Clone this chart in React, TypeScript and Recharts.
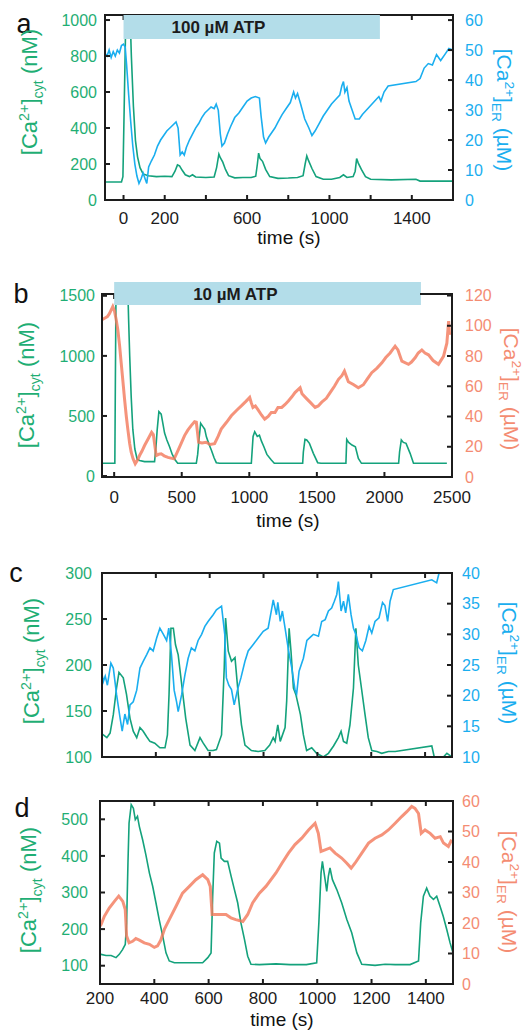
import React from 'react';
import { LineChart, Line, XAxis, YAxis, ReferenceArea } from 'recharts';

// colours
const GREEN = '#14a27c';
const GREEN_TXT = '#1fae74';
const BLUE = '#1aaeef';
const RED = '#f3785a';
const BAR = '#b3dde9';
const INK = '#1c1c1c';

// ---- panel a : 100 uM ATP ----
const aCytT = [-90, -10, -3, 3, 10, 15, 30, 38, 48, 58, 68, 80, 95, 120, 160, 200, 235, 250, 262, 272, 285, 300, 320, 335, 350, 400, 440, 452, 463, 470, 482, 495, 510, 540, 580, 620, 642, 650, 656, 663, 675, 690, 710, 750, 800, 845, 872, 882, 890, 898, 915, 935, 970, 1010, 1050, 1068, 1085, 1115, 1125, 1132, 1140, 1155, 1175, 1200, 1300, 1420, 1440, 1500, 1600];
const aCytV = [100, 100, 130, 500, 950, 1100, 1100, 800, 520, 330, 240, 180, 145, 135, 130, 132, 130, 160, 195, 190, 165, 140, 130, 140, 128, 125, 128, 180, 255, 235, 210, 170, 135, 123, 125, 125, 132, 200, 260, 230, 215, 170, 130, 120, 122, 125, 135, 200, 245, 220, 175, 130, 115, 115, 125, 140, 125, 130, 160, 230, 205, 170, 130, 115, 112, 115, 105, 105, 105];
const aErT = [-90, -80, -70, -60, -50, -40, -30, -20, -10, 0, 8, 15, 25, 35, 45, 55, 65, 75, 85, 95, 105, 113, 122, 135, 150, 165, 180, 195, 210, 225, 240, 255, 265, 275, 285, 295, 305, 320, 335, 350, 365, 380, 395, 410, 425, 440, 450, 460, 470, 478, 490, 505, 520, 540, 560, 580, 600, 620, 640, 660, 668, 680, 690, 705, 720, 735, 750, 770, 790, 810, 826, 835, 845, 860, 880, 900, 915, 930, 950, 970, 990, 1010, 1030, 1050, 1060, 1068, 1075, 1085, 1095, 1110, 1125, 1145, 1160, 1180, 1200, 1220, 1240, 1250, 1265, 1285, 1420, 1440, 1460, 1480, 1500, 1520, 1540, 1560, 1580, 1600];
const aErV = [49, 48, 50, 47.5, 49.5, 48, 50, 49, 51.5, 52, 51, 45, 35, 26, 18, 12, 8, 5.5, 7, 9, 7, 5.5, 11, 13, 15, 18, 20, 21.5, 23, 24, 25, 26, 24, 15, 16, 15, 17.5, 20, 22, 24, 25.5, 27.5, 29, 30, 31, 30.5, 32, 30, 22, 18, 19, 22, 24.5, 27.5, 29, 31, 33, 34, 34.5, 34, 28, 21, 19, 21, 22.5, 24, 26, 28.5, 30.5, 32.5, 36, 34, 35.5, 32, 27, 24, 21.5, 23, 25.5, 28, 30, 32, 33.5, 35, 38, 39.5, 36, 37.5, 33, 30, 27, 27, 28.5, 30, 31.5, 33, 34.5, 33, 36, 38, 39.5, 40.5, 44, 45.5, 45, 48.5, 46.5, 48.5, 50.5, 50];
const aAtp = [0, 1245];
const aXTicks = [0, 200, 400, 600, 800, 1000, 1200, 1400];
const aXLabels = [0, 200, 600, 1000, 1400];
const aLTicks = [0, 200, 400, 600, 800, 1000];
const aRTicks = [0, 10, 20, 30, 40, 50, 60];

// ---- panel b : 10 uM ATP ----
const bCytT = [-90, 5, 9, 14, 100, 107, 115, 126, 138, 153, 170, 188, 225, 299, 310, 318, 331, 348, 360, 373, 390, 410, 430, 452, 470, 608, 618, 625, 640, 657, 670, 682, 700, 719, 740, 756, 780, 1015, 1028, 1040, 1059, 1075, 1090, 1108, 1130, 1163, 1185, 1395, 1400, 1412, 1425, 1445, 1474, 1506, 1530, 1715, 1721, 1735, 1760, 1785, 1807, 1830, 2105, 2112, 2125, 2140, 2160, 2190, 2215, 2240, 2462];
const bCytV = [106, 106, 800, 1600, 1600, 1300, 1000, 661, 390, 225, 140, 130, 120, 120, 250, 380, 536, 515, 440, 358, 300, 244, 180, 133, 106, 106, 180, 272, 439, 411, 390, 328, 270, 217, 150, 111, 106, 106, 330, 369, 330, 340, 290, 244, 180, 133, 106, 106, 200, 305, 300, 272, 189, 111, 106, 106, 305, 280, 258, 244, 147, 106, 106, 200, 300, 280, 272, 189, 106, 106, 106];
const bErT = [-90, -71, -50, -35, -10, 2, 15, 27, 40, 52, 65, 77, 90, 101, 115, 126, 140, 156, 172, 188, 205, 225, 250, 277, 290, 311, 330, 348, 370, 398, 420, 444, 472, 495, 521, 545, 570, 595, 608, 616, 625, 650, 680, 710, 743, 770, 792, 830, 867, 905, 941, 975, 1003, 1015, 1027, 1045, 1064, 1090, 1114, 1140, 1163, 1190, 1212, 1240, 1265, 1289, 1315, 1338, 1376, 1390, 1422, 1455, 1487, 1510, 1536, 1570, 1598, 1630, 1660, 1685, 1704, 1733, 1770, 1807, 1844, 1875, 1906, 1945, 1981, 2010, 2042, 2079, 2100, 2129, 2178, 2200, 2227, 2250, 2277, 2300, 2326, 2360, 2400, 2437, 2462, 2475, 2482];
const bErV = [104, 105, 106, 108, 112.7, 110, 104, 97.4, 87, 75.5, 63, 51.4, 40, 31.7, 22, 16.4, 12, 8.7, 11, 14.2, 17, 20.8, 25, 29.6, 28, 14.2, 15, 15.3, 14, 13, 12.5, 12, 17.5, 22, 27.4, 31, 34, 36.5, 36.2, 30, 23, 22.5, 23, 21.5, 22, 27, 31.7, 36, 40.5, 44, 47, 50, 52.6, 49, 46, 47, 44.5, 41, 38.3, 40, 42.7, 42.7, 46, 46, 48, 50.3, 53, 55.8, 59, 55, 52, 49, 46, 47, 49.5, 52, 55.8, 60, 64.6, 67, 70, 63, 61.2, 59, 61, 65, 69, 72, 75.5, 79, 82, 86.5, 84, 76.6, 74.5, 76, 78.8, 82, 84, 82, 80.8, 77, 74.5, 79.8, 88.5, 103, 94];
const bAtp = [0, 2270];
const bXTicks = [0, 500, 1000, 1500, 2000, 2500];
const bLTicks = [0, 500, 1000, 1500];
const bRTicks = [0, 20, 40, 60, 80, 100, 120];

// ---- panel c ----
const cCytT = [0, 5, 18, 30, 42, 54, 63, 79, 91, 104, 116, 129, 141, 153, 166, 178, 196, 215, 234, 243, 249, 256, 265, 273, 283, 296, 311, 327, 345, 364, 376, 394, 413, 425, 444, 454, 459, 469, 481, 494, 506, 518, 531, 555, 580, 605, 623, 636, 643, 653, 662, 680, 686, 695, 702, 711, 720, 737, 748, 760, 779, 797, 822, 841, 860, 878, 888, 897, 909, 921, 934, 943, 952, 965, 977, 989, 1002, 1021, 1039, 1064, 1089, 1225, 1234, 1262, 1281, 1300];
const cCytV = [125, 124, 121, 126, 146, 175, 192, 186, 168, 142, 128, 121, 132, 128, 122, 117, 115, 110, 110, 124, 168, 240, 240, 222, 211, 179, 142, 113, 107, 121, 115, 107, 107, 108, 124, 197, 251, 215, 204, 208, 168, 135, 113, 107, 106, 107, 113, 121, 117, 135, 117, 132, 161, 240, 215, 175, 168, 146, 124, 107, 110, 104, 100, 104, 112, 121, 128, 117, 115, 135, 175, 240, 200, 172, 146, 121, 107, 106, 104, 106, 106, 112, 100, 98, 104, 100];
const cErT = [0, 5, 12, 20, 33, 42, 54, 67, 75, 85, 95, 104, 116, 129, 141, 153, 166, 178, 190, 203, 215, 228, 240, 248, 258, 268, 277, 283, 296, 308, 320, 332, 345, 357, 370, 382, 394, 413, 425, 444, 456, 462, 471, 481, 491, 503, 516, 531, 543, 561, 580, 599, 617, 630, 636, 648, 653, 662, 670, 680, 693, 705, 717, 723, 732, 748, 761, 773, 785, 804, 816, 829, 841, 853, 863, 872, 878, 888, 897, 905, 915, 925, 934, 943, 955, 967, 980, 992, 1002, 1014, 1029, 1042, 1051, 1061, 1070, 1082, 1225, 1243, 1252];
const cErV = [23.5, 22.3, 23.2, 21.7, 25.3, 24.5, 20.2, 16.4, 14.2, 17, 15.3, 18.5, 19, 20.9, 24.5, 25.6, 26.7, 27.8, 27.3, 29.4, 31, 30, 29, 31, 26.7, 20.9, 19, 17.4, 20.2, 23.4, 26.1, 27.8, 27.3, 29, 30, 31.3, 32.1, 33.2, 34, 34.6, 30, 22.9, 21.7, 21, 18.5, 20.9, 22.9, 25.6, 27.3, 28.3, 29.4, 30.5, 31, 34.1, 35.6, 33.2, 35.2, 32.1, 33.8, 31, 27.3, 24.5, 20.9, 20.3, 24, 26.1, 29, 29.5, 30, 29.7, 32.1, 32.4, 33.8, 34.3, 35.4, 36.5, 38.6, 33.8, 35.4, 33.5, 36.5, 33.2, 31, 30, 27.8, 27.3, 29, 31.3, 30.2, 32.1, 32.7, 35.2, 34.7, 32.1, 35.4, 37.3, 38.9, 38.4, 40];
const cXTicks = [200, 400, 600, 800, 1000, 1200];
const cLTicks = [100, 150, 200, 250, 300];
const cRTicks = [10, 15, 20, 25, 30, 35, 40];

// ---- panel d ----
const dCytT = [200, 204, 222, 241, 259, 271, 283, 293, 298, 303, 307, 315, 323, 330, 338, 345, 357, 369, 382, 394, 406, 418, 431, 443, 455, 474, 505, 541, 578, 597, 609, 615, 621, 630, 640, 646, 658, 670, 683, 695, 707, 719, 732, 744, 756, 787, 848, 900, 960, 998, 1006, 1014, 1019, 1029, 1035, 1041, 1047, 1056, 1072, 1090, 1109, 1127, 1146, 1164, 1213, 1250, 1287, 1342, 1373, 1381, 1391, 1403, 1415, 1428, 1440, 1452, 1464, 1477, 1489, 1500];
const dCytV = [131, 131, 128, 128, 122, 131, 144, 158, 217, 381, 490, 540, 530, 499, 508, 480, 444, 403, 353, 317, 272, 226, 181, 135, 113, 108, 108, 108, 108, 122, 135, 290, 408, 440, 435, 394, 385, 385, 344, 308, 272, 217, 172, 126, 104, 103, 105, 103, 103, 108, 217, 353, 385, 335, 303, 344, 367, 335, 308, 272, 226, 190, 135, 104, 101, 104, 103, 103, 113, 217, 290, 312, 290, 281, 290, 263, 235, 199, 163, 135];
const dErT = [200, 204, 216, 234, 253, 269, 284, 293, 298, 307, 320, 332, 345, 363, 382, 400, 412, 424, 437, 455, 480, 504, 529, 553, 578, 597, 606, 613, 639, 664, 682, 700, 726, 744, 762, 787, 811, 848, 870, 894, 918, 943, 968, 992, 1004, 1014, 1029, 1047, 1066, 1090, 1109, 1125, 1139, 1164, 1189, 1213, 1238, 1262, 1287, 1311, 1330, 1348, 1360, 1373, 1383, 1397, 1416, 1434, 1453, 1465, 1483, 1495];
const dErV = [19, 19.5, 22.2, 24.9, 27.1, 28.8, 27.1, 24.4, 15.7, 13.5, 14, 14.9, 14.4, 13.5, 13, 12, 12.5, 14.4, 17.9, 21.1, 25.5, 29.8, 32, 34.2, 35.8, 34.2, 32, 22.8, 22.8, 22.8, 21.7, 21.1, 20.5, 22.8, 26.6, 29.8, 32, 36.4, 39.6, 42.9, 45.7, 47.8, 50.5, 52.7, 49.4, 43.5, 44, 44.6, 42.9, 41.3, 39.6, 38, 39.6, 42.9, 46.2, 47.8, 48.9, 50.5, 52.7, 54.9, 56.5, 58.2, 57.6, 55.9, 49.4, 50.5, 49.4, 47.8, 48.3, 46.2, 45.1, 47.3];
const dXTicks = [200, 400, 600, 800, 1000, 1200, 1400];
const dLTicks = [100, 200, 300, 400, 500];
const dRTicks = [0, 10, 20, 30, 40, 50, 60];

const zip = (t: number[], v: number[]) => t.map((x, i) => ({ t: x, v: v[i] }));

type Ax = { domain: [number, number]; ticks: number[]; tm: number };
type PanelProps = {
  top: number;
  height: number;
  margin: { top: number; right: number; bottom: number; left: number };
  xDomain: [number, number];
  xTicks: number[];
  xLabels: number[];
  xTm: number;
  xHeight: number;
  left: Ax;
  right: Ax;
  erColor: string;
  cyt: { t: number; v: number }[];
  er: { t: number; v: number }[];
  atp?: { span: number[]; y: [number, number]; text: string; offset: number };
};

function Panel(p: PanelProps) {
  const red = p.erColor === RED;
  return (
    <div style={{ position: 'absolute', left: 0, top: p.top, width: 526, height: p.height }}>
      <LineChart width={526} height={p.height} margin={p.margin}>
        <XAxis
          xAxisId="b" dataKey="t" type="number" domain={p.xDomain} ticks={p.xTicks}
          allowDataOverflow interval={0} height={p.xHeight} tickSize={-5} tickMargin={p.xTm}
          tickFormatter={(v: number) => (p.xLabels.includes(v) ? String(v) : '')}
          tick={{ fill: INK, fontSize: 17 }}
          axisLine={{ stroke: INK, strokeWidth: 2 }} tickLine={{ stroke: INK, strokeWidth: 2 }}
        />
        <XAxis
          xAxisId="t" orientation="top" dataKey="t" type="number" domain={p.xDomain} ticks={p.xTicks}
          allowDataOverflow interval={0} height={1} tickSize={-5} tickFormatter={() => ''}
          axisLine={{ stroke: INK, strokeWidth: 2 }} tickLine={{ stroke: INK, strokeWidth: 2 }}
        />
        <YAxis
          yAxisId="l" width={60} domain={p.left.domain} ticks={p.left.ticks} allowDataOverflow interval={0}
          tickSize={-5} tickMargin={p.left.tm} tick={{ fill: GREEN_TXT, fontSize: 16 }}
          axisLine={{ stroke: INK, strokeWidth: 2 }} tickLine={{ stroke: INK, strokeWidth: 2 }}
        />
        <YAxis
          yAxisId="r" orientation="right" width={60} domain={p.right.domain} ticks={p.right.ticks}
          allowDataOverflow interval={0} tickSize={-5} tickMargin={p.right.tm}
          tick={{ fill: p.erColor, fontSize: 16, opacity: red ? 0.85 : 1 }}
          axisLine={{ stroke: INK, strokeWidth: 2 }} tickLine={{ stroke: INK, strokeWidth: 2 }}
        />
        <Line
          xAxisId="b" yAxisId="l" data={p.cyt} dataKey="v" type="linear" stroke={GREEN}
          strokeWidth={1.6} dot={false} isAnimationActive={false}
        />
        <Line
          xAxisId="b" yAxisId="r" data={p.er} dataKey="v" type="linear" stroke={p.erColor}
          strokeWidth={red ? 3 : 1.6} strokeOpacity={red ? 0.8 : 1} dot={false} isAnimationActive={false}
        />
        {p.atp && (
          <ReferenceArea
            xAxisId="b" yAxisId="l" x1={p.atp.span[0]} x2={p.atp.span[1]} y1={p.atp.y[0]} y2={p.atp.y[1]}
            fill={BAR} fillOpacity={1} stroke="none" ifOverflow="visible" zIndex={1000}
            label={{ value: p.atp.text, position: 'insideLeft', offset: p.atp.offset, fill: INK, fontSize: 17, fontWeight: 'bold' }}
          />
        )}
      </LineChart>
    </div>
  );
}

// plot box outline, drawn over the charts
const Frame = ({ x, y, w, h, top = true }: { x: number; y: number; w: number; h: number; top?: boolean }) => (
  <div
    style={{
      position: 'absolute', left: x - 1, top: y - 1, width: w - 2, height: h - 2, pointerEvents: 'none',
      border: `2px solid ${INK}`, borderTopColor: top ? INK : 'transparent',
    }}
  />
);
const Seg = ({ x1, x2, y }: { x1: number; x2: number; y: number }) => (
  <div style={{ position: 'absolute', left: x1, top: y - 1, width: x2 - x1, height: 2, background: INK }} />
);

const Title = ({ x, y, color, rot, er }: { x: number; y: number; color: string; rot: number; er?: boolean }) => (
  <div
    style={{
      position: 'absolute', left: x, top: y, transform: `translate(-50%, -50%) rotate(${rot}deg)`,
      color, fontSize: er ? 21 : 22, whiteSpace: 'nowrap', lineHeight: 1, opacity: color === RED ? 0.85 : 1,
    }}
  >
    [Ca<sup style={{ fontSize: '0.65em' }}>2+</sup>]<sub style={{ fontSize: '0.65em' }}>{er ? 'ER' : 'cyt'}</sub>{er ? ' (µM)' : ' (nM)'}
  </div>
);

const Text = ({ x, y, size, children }: { x: number; y: number; size: number; children: React.ReactNode }) => (
  <div style={{ position: 'absolute', left: x, top: y, transform: 'translate(-50%, -50%)', fontSize: size, lineHeight: 1, color: '#111', whiteSpace: 'nowrap' }}>
    {children}
  </div>
);

export default function App() {
  return (
    <div
      style={{
        position: 'absolute', left: 0, top: 0, width: 526, height: 1034, background: '#fff',
        fontFamily: '"Liberation Sans", Arial, sans-serif', overflow: 'hidden',
      }}
    >
      <Panel
        top={0} height={250} margin={{ top: 14, right: 13, bottom: 6, left: 45 }}
        xDomain={[-90, 1600]} xTicks={aXTicks} xLabels={aXLabels} xTm={17} xHeight={44}
        left={{ domain: [0, 1028], ticks: aLTicks, tm: 13 }}
        right={{ domain: [0, 61.7], ticks: aRTicks, tm: 17 }}
        erColor={BLUE} cyt={zip(aCytT, aCytV)} er={zip(aErT, aErV)}
        atp={{ span: aAtp, y: [895, 1028], text: '100 µM ATP', offset: 48 }}
      />
      <Panel
        top={260} height={275} margin={{ top: 33, right: 14, bottom: 8, left: 42 }}
        xDomain={[-90, 2500]} xTicks={bXTicks} xLabels={bXTicks} xTm={19} xHeight={50}
        left={{ domain: [-8, 1515], ticks: bLTicks, tm: 12 }}
        right={{ domain: [0, 121], ticks: bRTicks, tm: 18 }}
        erColor={RED} cyt={zip(bCytT, bCytV)} er={zip(bErT, bErV)}
        atp={{ span: bAtp, y: [1423, 1615], text: '10 µM ATP', offset: 79 }}
      />
      <Panel
        top={550} height={215} margin={{ top: 22, right: 14, bottom: 7, left: 42 }}
        xDomain={[0, 1300]} xTicks={cXTicks} xLabels={[]} xTm={10} xHeight={1}
        left={{ domain: [100, 300], ticks: cLTicks, tm: 15 }}
        right={{ domain: [10, 40], ticks: cRTicks, tm: 15 }}
        erColor={BLUE} cyt={zip(cCytT, cCytV)} er={zip(cErT, cErV)}
      />
      <Panel
        top={780} height={254} margin={{ top: 20, right: 13, bottom: 7, left: 40 }}
        xDomain={[200, 1500]} xTicks={dXTicks} xLabels={dXTicks} xTm={13} xHeight={43}
        left={{ domain: [50, 550], ticks: dLTicks, tm: 17 }}
        right={{ domain: [0, 60], ticks: dRTicks, tm: 14 }}
        erColor={RED} cyt={zip(dCytT, dCytV)} er={zip(dErT, dErV)}
      />

      <Frame x={105} y={15} w={348} h={185} top={false} />
      <Seg x1={104} x2={123} y={15} />
      <Seg x1={380} x2={454} y={15} />
      <Frame x={102} y={294} w={350} h={183} top={false} />
      <Seg x1={101} x2={114} y={294} />
      <Seg x1={420} x2={453} y={294} />
      <Frame x={102} y={573} w={350} h={184} />
      <Frame x={100} y={801} w={353} h={183} />

      <Text x={289} y={237} size={19}>time (s)</Text>
      <Text x={288} y={520} size={19}>time (s)</Text>
      <Text x={282} y={1019} size={19}>time (s)</Text>

      <Text x={24} y={24} size={27}>a</Text>
      <Text x={21} y={294} size={27}>b</Text>
      <Text x={16} y={573} size={27}>c</Text>
      <Text x={22} y={808} size={27}>d</Text>

      <Title x={31} y={92} color={GREEN_TXT} rot={-90} />
      <Title x={503} y={110} color={BLUE} rot={90} er />
      <Title x={28} y={385} color={GREEN_TXT} rot={-90} />
      <Title x={510} y={389} color={RED} rot={90} er />
      <Title x={33} y={661} color={GREEN_TXT} rot={-90} />
      <Title x={508} y={663} color={BLUE} rot={90} er />
      <Title x={30} y={890} color={GREEN_TXT} rot={-90} />
      <Title x={508} y={892} color={RED} rot={90} er />
    </div>
  );
}
